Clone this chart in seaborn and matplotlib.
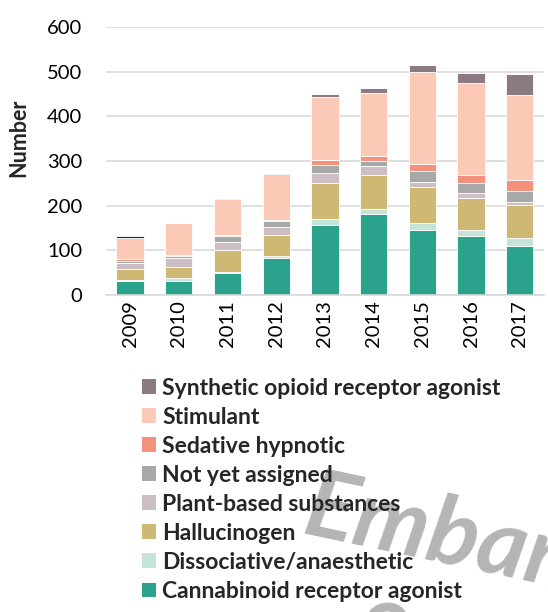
import numpy as np
import pandas as pd
import seaborn as sns
import matplotlib.pyplot as plt
from matplotlib.patches import Patch

# values (stack bottom -> top)
years = [2009, 2010, 2011, 2012, 2013, 2014, 2015, 2016, 2017]
cannabinoid = [32, 32, 49, 82, 156, 181, 146, 131, 109]
dissociative = [2, 7, 3, 6, 15, 12, 16, 15, 19]
hallucinogen = [24, 24, 48, 46, 80, 76, 79, 71, 73]
plant_based = [14, 20, 19, 18, 21, 19, 13, 12, 8]
not_assigned = [5, 5, 12, 14, 18, 11, 24, 21, 23]
sedative = [4, 2, 3, 2, 12, 13, 15, 18, 25]
stimulant = [47, 72, 81, 102, 142, 141, 206, 207, 190]
synth_opioid = [0, 0, 2, 3, 6, 10, 16, 21, 47]
other = [5, 0, 0, 0, 0, 0, 0, 0, 0]  # thin dark cap on 2009, not in legend

# top -> bottom order (histplot stacks first hue level on top)
names = ["Other", "Synthetic opioid receptor agonist", "Stimulant", "Sedative hypnotic",
         "Not yet assigned", "Plant-based substances", "Hallucinogen",
         "Dissociative/anaesthetic", "Cannabinoid receptor agonist"]
series = [other, synth_opioid, stimulant, sedative, not_assigned, plant_based,
          hallucinogen, dissociative, cannabinoid]
colors = ["#0d3c36", "#8b7a81", "#fcc9b6", "#f4917d", "#a7a9a9", "#cdbec4",
          "#cfb774", "#c4e4d8", "#2ba28b"]

df = pd.DataFrame({
    "year": np.tile(years, len(names)),
    "group": np.repeat(names, len(years)),
    "value": np.concatenate(series),
})

sns.set_style("whitegrid")
plt.rcParams["font.family"] = ["Lato", "DejaVu Sans"]

fig = plt.figure(figsize=(5.48, 6.12), dpi=100)
ax = fig.add_axes([0.193, 0.518, 0.800, 0.438])

sns.histplot(data=df, x="year", hue="group", weights="value", hue_order=names,
             palette=dict(zip(names, colors)), multiple="stack", discrete=True,
             shrink=0.56, alpha=1, edgecolor="white", linewidth=0.6,
             legend=False, ax=ax)

ax.set_xlim(2008.5, 2017.5)
ax.set_ylim(0, 600)
ax.set_yticks(range(0, 601, 100))
ax.set_xticks(years)
ax.set_xticklabels([str(y) for y in years], rotation=90)
ax.tick_params(axis="both", labelsize=14.5, length=0, colors="black")
ax.tick_params(axis="x", pad=4)
ax.tick_params(axis="y", pad=17)
ax.set_xlabel("")
ax.set_ylabel("Number", fontsize=15.5, fontweight="bold")
ax.yaxis.set_label_coords(-0.175, 0.586)
ax.grid(axis="x", visible=False)
ax.grid(axis="y", color="#d9d9d9", linewidth=1.2)
for side in ["left", "right", "top"]:
    ax.spines[side].set_visible(False)
ax.spines["bottom"].set_color("#d9d9d9")
ax.spines["bottom"].set_linewidth(1.2)

# watermark (behind legend)
fig.text(0.547, 0.128, "Embargoed", fontsize=68, fontweight="bold", style="italic",
         color="#b5b5b5", rotation=-12, rotation_mode="anchor",
         ha="left", va="baseline", zorder=-1)
fig.text(0.63, -0.085, "2019", fontsize=68, fontweight="bold", style="italic",
         color="#b5b5b5", rotation=-12, rotation_mode="anchor",
         ha="left", va="baseline", zorder=-1)

handles = [Patch(facecolor=c, edgecolor="none") for c in colors[1:]]
fig.legend(handles, names[1:], loc="upper left", bbox_to_anchor=(0.243, 0.398),
           frameon=False, prop={"weight": "bold", "size": 16.5},
           handlelength=0.58, handleheight=0.58, handletextpad=0.3,
           labelspacing=0.35, borderaxespad=0)

fig.savefig("out.png", dpi=100)
